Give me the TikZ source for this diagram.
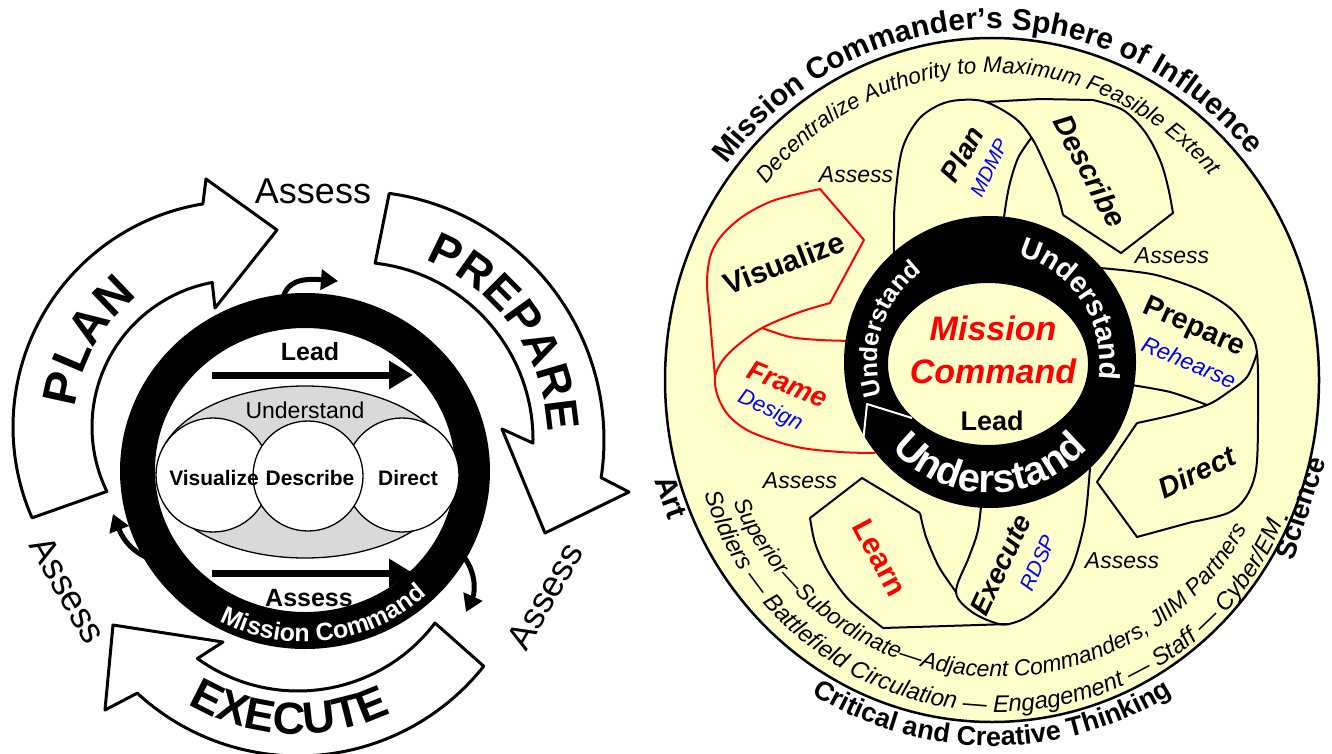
\documentclass[tikz,border=0pt]{standalone}
\usepackage{fontspec}
\setmainfont{Liberation Sans}
\usetikzlibrary{decorations.text,arrows.meta}
\definecolor{cream}{RGB}{255,255,204}
\definecolor{grayfill}{RGB}{217,217,217}
\newcommand{\myfs}[1]{\fontsize{#1}{#1}\selectfont}
\begin{document}
\begin{tikzpicture}[x=1pt,y=-1pt,line join=round,
  bigarrow/.style={draw=black,line width=3pt,fill=white},
  ringfill/.style={fill=black,even odd rule},
  petal/.style={draw=black,line width=2pt},
  redpetal/.style={draw=red,line width=2pt},
  lbl/.style={inner sep=0pt},
  thickarrow/.style={line width=7pt,-{Triangle[length=24pt,width=27pt]}},
  smallarrow/.style={line width=5pt,-{Triangle[length=17pt,width=20pt]}},
  circtext/.style={decorate,decoration={text along path,text align=center,text={#1}}},
  whitetext/.style={decorate,decoration={text along path,text align=center,text color=white,text={#1}}}]
\useasboundingbox (0,0) rectangle (1332,754);

% ================= LEFT DIAGRAM =================
% PLAN arrow
\draw[bigarrow] ([shift={(239,427)}]-203.7:226) arc[start angle=-203.7,end angle=-99.2,radius=226]
  -- (206,179) -- (277,230) -- (215,308) -- ([shift={(239,427)}]-100.5:147)
  arc[start angle=-100.5,end angle=-206,radius=147] -- cycle;
% PREPARE arrow
\draw[bigarrow] ([shift={(355,440)}]-82.1:249) arc[start angle=-82.1,end angle=8.7,radius=249]
  -- (629,492) -- (545,533) -- (502,429) -- ([shift={(355,440)}]1:178)
  arc[start angle=1,end angle=-83.5,radius=178] -- cycle;
% EXECUTE arrow
\draw[bigarrow] ([shift={(298,519)}]37.2:172) arc[start angle=37.2,end angle=125.8,radius=172]
  -- (223,642) -- (113,625) -- (105,710) -- ([shift={(298,519)}]132.7:237)
  arc[start angle=132.7,end angle=38.4,radius=237] -- cycle;

\path[circtext={|\myfs{48}\bfseries|PLAN}] ([shift={(239,427)}]-200:165) arc[start angle=-200,end angle=-101,radius=165];
\path[circtext={|\myfs{46}\bfseries|PREPARE}] ([shift={(355,440)}]-85:193) arc[start angle=-85,end angle=14,radius=193];
\path[circtext={|\myfs{45}\bfseries|EXECUTE}] ([shift={(298,519)}]-215:215) arc[start angle=-215,end angle=-320,radius=215];

\node[lbl,font=\myfs{36}] (asTop) at (313,191) {Assess};
\node[lbl,font=\myfs{36},rotate=-60] (asLeft) at (68,590) {Assess};
\node[lbl,font=\myfs{36},rotate=60] (asRight) at (545,596) {Assess};

% ring
\fill[ringfill] (305,471) ellipse[x radius=185,y radius=178] (305,470) ellipse[x radius=150,y radius=142];
% gray ellipse and circles
\filldraw[fill=grayfill,draw=black,line width=1.3pt] (305,472) ellipse[x radius=148,y radius=86];
\filldraw[fill=white,draw=black,line width=1.3pt] (213,475) circle[radius=57];
\filldraw[fill=white,draw=black,line width=1.3pt] (402,475) circle[radius=57];
\filldraw[fill=white,draw=black,line width=1.3pt] (308,476) circle[radius=55];
\node[lbl,font=\myfs{23}] (und) at (305,410) {Understand};
\node[lbl,font=\myfs{21}\bfseries] (vis) at (214,478) {Visualize};
\node[lbl,font=\myfs{21}\bfseries] (des) at (310,478) {Describe};
\node[lbl,font=\myfs{21}\bfseries] (dir) at (408,478) {Direct};
\node[lbl,font=\myfs{25}\bfseries] (lead) at (310,352) {Lead};
\node[lbl,font=\myfs{25}\bfseries] (assIn) at (309,598) {Assess};
\coordinate (la1) at (212,375); \coordinate (la2) at (413,375);
\coordinate (aa1) at (212,573); \coordinate (aa2) at (413,573);
\draw[thickarrow] (la1) -- (la2);
\draw[thickarrow] (aa1) -- (aa2);
\path[whitetext={|\myfs{25}\bfseries|Mission Command}] ([shift={(305,471)}]-225:177 and 171) arc[start angle=-225,end angle=-330,x radius=177,y radius=171];
% small curved arrows
\coordinate (s1a) at (283,298); \coordinate (s1b) at (338,281);
\draw[smallarrow] (s1a) .. controls (287,282) and (300,278) .. (s1b);
\coordinate (s2a) at (463,556); \coordinate (s2b) at (466,612);
\draw[smallarrow] (s2a) .. controls (475,570) and (476,590) .. (s2b);
\coordinate (s3a) at (148,558); \coordinate (s3b) at (113,514);
\draw[smallarrow] (s3a) .. controls (134,552) and (124,542) .. (s3b);

% ================= RIGHT DIAGRAM =================
\filldraw[fill=cream,draw=black,line width=2.5pt] (992,380) ellipse[x radius=327,y radius=342];

% Plan petal
\draw[petal] plot[smooth,tension=0.55] coordinates {(894,262) (894,230) (895,200) (902,150) (918,120) (939,105) (960,100) (986,102) (1016,119) (1033,140) (1046,167) (1057,193) (1063,215)};
\draw[petal] plot[smooth] coordinates {(1032,137) (1018,158) (1009,187) (1004,217) (1003,232)};
% Describe petal
\draw[petal] (986,102) -- (1040,99) -- plot[smooth,tension=0.55] coordinates {(1093,100) (1123,110) (1145,132) (1160,160) (1168,187) (1173,213)} -- (1121,253) -- (1063,215);
% Prepare / Direct
\draw[petal] plot[smooth,tension=0.55] coordinates {(1100,268) (1130,271) (1160,276) (1200,290) (1230,308) (1248,330) (1257,353) (1258,420) (1256,470) (1246,497) (1228,513) (1192,522)} -- (1137,537) -- (1097,482) -- (1137,423);
\draw[petal] plot[smooth,tension=0.55] coordinates {(1137,423) (1173,415) (1207,405) (1227,393) (1247,377) (1257,353)};
\draw[petal] plot[smooth] coordinates {(1125,384) (1170,392) (1207,405)};
% Execute
\draw[petal] plot[smooth,tension=0.55] coordinates {(982,495) (978,530) (969,557) (956,592) (972,612) (999,624) (1016,622) (1033,613) (1055,593) (1072,567) (1083,530) (1087,503) (1090,468)};
% Learn
\draw[petal] (920,513) -- (862,478) -- (810,518) -- plot[smooth] coordinates {(810,518) (815,543) (827,570) (849,600) (883,628)} -- (1010,624);
\draw[petal] plot[smooth] coordinates {(920,513) (926,537) (939,567) (956,592)};
% Visualize / Frame (red)
\draw[redpetal] plot[smooth,tension=0.55] coordinates {(715,377) (710,320) (707,282) (711,254) (723,234) (745,215) (775,200) (820,189)} -- (864,240) -- (830,303) -- plot[smooth,tension=0.55] coordinates {(830,303) (797,313) (762,328) (738,345) (723,360) (715,377) (718,397) (730,417) (753,433) (797,447) (840,452) (875,453)};
\draw[redpetal] plot[smooth] coordinates {(762,328) (790,337) (820,340) (852,341)};

% black ring
\fill[ringfill] (990,362) circle[radius=146] (988,364) ellipse[x radius=100,y radius=81];
\coordinate (wa) at (862,452); \coordinate (wb) at (867,404); \coordinate (wc) at (912,418);
\draw[white,line width=2pt] (wa) -- (wb) -- (wc);
\path[whitetext={|\myfs{29}\bfseries|Understand}] ([shift={(990,362)}]-80:110) arc[start angle=-80,end angle=14,radius=110];
\path[whitetext={|\myfs{25}\bfseries|Understand}] ([shift={(990,362)}]-205:113) arc[start angle=-205,end angle=-119,radius=113];
\path[whitetext={|\myfs{40}\bfseries|Understand}] ([shift={(990,362)}]-195:131) arc[start angle=-195,end angle=-345,radius=131];

\node[lbl,font=\myfs{34}\bfseries\itshape,text=red] (mc1) at (993,328) {Mission};
\node[lbl,font=\myfs{34}\bfseries\itshape,text=red] (mc2) at (993,371) {Command};
\node[lbl,font=\myfs{27}\bfseries] (leadR) at (992,421) {Lead};

% petal labels
\node[lbl,font=\myfs{28}\bfseries\itshape,rotate=60] (plan) at (962,154) {Plan};
\node[lbl,font=\myfs{20}\itshape,text=blue,rotate=64] (mdmp) at (989,168) {MDMP};
\node[lbl,font=\myfs{29}\bfseries\itshape,rotate=-62] (descr) at (1090,171) {Describe};
\node[lbl,font=\myfs{30}\bfseries,rotate=21] (visu) at (784,263) {Visualize};
\node[lbl,font=\myfs{28}\bfseries\itshape,text=red,rotate=-22] (frame) at (788,384) {Frame};
\node[lbl,font=\myfs{22}\itshape,text=blue,rotate=-25] (design) at (770,411) {Design};
\node[lbl,font=\myfs{29}\bfseries,rotate=-24] (prep) at (1194,328) {Prepare};
\node[lbl,font=\myfs{23}\itshape,text=blue,rotate=-23] (reh) at (1189,362) {Rehearse};
\node[lbl,font=\myfs{29}\bfseries\itshape,rotate=26] (direct) at (1197,472) {Direct};
\node[lbl,font=\myfs{30}\bfseries,text=red,rotate=-62] (learn) at (880,558) {Learn};
\node[lbl,font=\myfs{28}\bfseries\itshape,rotate=65] (exec) at (1001,565) {Execute};
\node[lbl,font=\myfs{21}\itshape,text=blue,rotate=66] (rdsp) at (1038,563) {RDSP};

\node[lbl,font=\myfs{23}\itshape] (asR1) at (856,175) {Assess};
\node[lbl,font=\myfs{23}\itshape] (asR2) at (1172,256) {Assess};
\node[lbl,font=\myfs{23}\itshape] (asR3) at (800,481) {Assess};
\node[lbl,font=\myfs{23}\itshape] (asR4) at (1122,561) {Assess};

% outer texts
\path[circtext={|\myfs{30}\bfseries|Mission Commander’s Sphere of Influence}] ([shift={(992,380)}]-160:336 and 351) arc[start angle=-160,end angle=-22,x radius=336,y radius=351];
\path[circtext={|\myfs{22.5}\itshape|Decentralize Authority to Maximum Feasible Extent}] ([shift={(992,380)}]-160:292 and 307) arc[start angle=-160,end angle=-22,x radius=292,y radius=307];
\path[circtext={|\myfs{27}\bfseries|Critical and Creative Thinking}] ([shift={(992,380)}]-215:352 and 366) arc[start angle=-215,end angle=-325,x radius=352,y radius=366];
\path[circtext={|\myfs{23}\itshape|Superior—Subordinate—Adjacent Commanders, JIIM Partners}] ([shift={(997,391)}]-185:286) arc[start angle=-185,end angle=-349,radius=286];
\path[circtext={|\myfs{24}\itshape|Soldiers — Battlefield Circulation — Engagement — Staff — Cyber/EM}] ([shift={(999,404)}]-182:308) arc[start angle=-182,end angle=-352,radius=308];
\node[lbl,font=\myfs{30}\bfseries,rotate=-70] (art) at (671,497) {Art};
\node[lbl,font=\myfs{28}\bfseries,rotate=72] (sci) at (1300,508) {Science};
\end{tikzpicture}
\end{document}
